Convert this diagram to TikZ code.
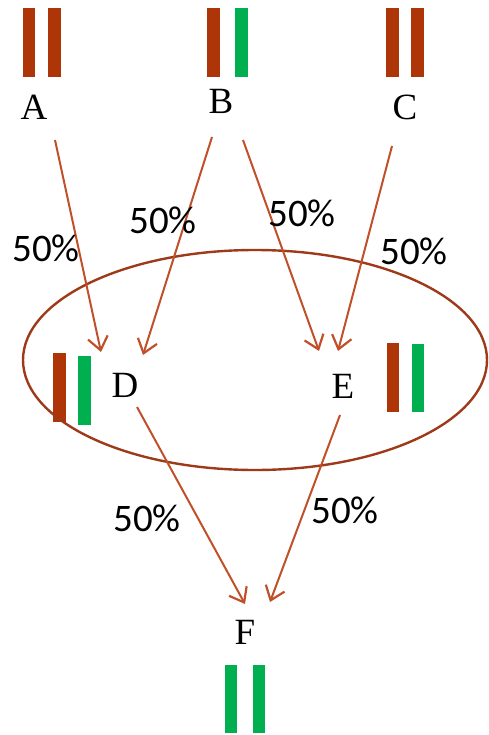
\documentclass[tikz,border=0pt]{standalone}
\usepackage{fontspec}
\setmainfont{Liberation Serif}
\newfontfamily\pctfont{Carlito}
\usetikzlibrary{arrows.meta}
\definecolor{barred}{HTML}{AE3508}
\definecolor{bargreen}{HTML}{00B050}
\definecolor{arrowc}{HTML}{C0502A}
\definecolor{ellc}{HTML}{9E3A1A}
\begin{document}
\begin{tikzpicture}[x=1pt,y=-1pt,
  lbl/.style={font=\fontsize{37}{37}\selectfont, inner sep=0pt},
  pct/.style={font=\pctfont\fontsize{39}{39}\selectfont, inner sep=0pt},
  conn/.style={draw=arrowc, line width=2pt, -{Straight Barb[length=13pt,width=20pt,line width=2.2pt]}},
  rbar/.style={fill=barred, draw=none},
  gbar/.style={fill=bargreen, draw=none}]
\useasboundingbox (0,0) rectangle (489,735);
% bars
\fill[rbar] (23,8) rectangle (35,77);
\fill[rbar] (48,8) rectangle (61,77);
\fill[rbar] (207,8) rectangle (220,77);
\fill[gbar] (235,8) rectangle (248,77);
\fill[rbar] (386,8) rectangle (399,77);
\fill[rbar] (411,8) rectangle (424,77);
\fill[rbar] (53,353) rectangle (66,422);
\fill[gbar] (78,356) rectangle (91,425);
\fill[rbar] (387,343) rectangle (399,412);
\fill[gbar] (412,344) rectangle (424,412);
\fill[gbar] (225,665) rectangle (237,733);
\fill[gbar] (253,665) rectangle (265,733);
% ellipse
\draw[ellc, line width=2.4pt] (255,360) ellipse [x radius=232, y radius=110];
% labels
\node[lbl] (A) at (34,107) {A};
\node[lbl] (B) at (221,101) {B};
\node[lbl] (C) at (405,107) {C};
\node[lbl] (D) at (125,385) {D};
\node[lbl] (E) at (343,386) {E};
\node[lbl] (F) at (245,632) {F};
% arrow endpoints
\coordinate (a1) at (55,140);
\coordinate (d1) at (101,352);
\coordinate (b1) at (212,137);
\coordinate (d2) at (143,355);
\coordinate (b2) at (243,140);
\coordinate (e1) at (319,351);
\coordinate (c1) at (392,146);
\coordinate (e2) at (338,351);
\coordinate (d3) at (137,407);
\coordinate (f1) at (245,604);
\coordinate (e3) at (340,415);
\coordinate (f2) at (270,602);
\draw[conn] (a1) -- (d1);
\draw[conn] (b1) -- (d2);
\draw[conn] (b2) -- (e1);
\draw[conn] (c1) -- (e2);
\draw[conn] (d3) -- (f1);
\draw[conn] (e3) -- (f2);
% percentages
\node[pct] (p1) at (46,248) {50\%};
\node[pct] (p2) at (163,220) {50\%};
\node[pct] (p3) at (302,213) {50\%};
\node[pct] (p4) at (414,251) {50\%};
\node[pct] (p5) at (147,518) {50\%};
\node[pct] (p6) at (345,510) {50\%};
\end{tikzpicture}
\end{document}
